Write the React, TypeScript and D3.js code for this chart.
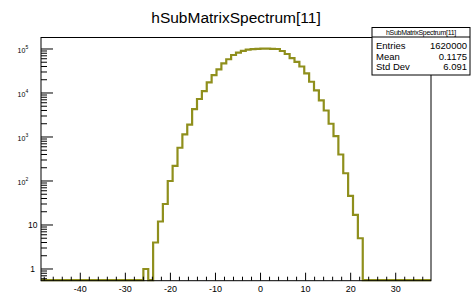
import React from "react";
import * as d3 from "d3";

const TITLE = "hSubMatrixSpectrum[11]";
const X_MIN = -48.72;
const X_MAX = 37.83;
const Y_MIN_LOG = -0.266;
const Y_MAX_LOG = 5.261;

// 80 bins, counts
const BIN_COUNTS = [
  0, 0, 0, 0, 0, 0, 0, 0, 0, 0,
  0, 0, 0, 0, 0, 0, 0, 0, 0, 0,
  0, 1, 0, 4, 12, 30, 100, 220, 570, 1150,
  1900, 4300, 7300, 11000, 17500, 25500, 34500, 47000, 58500, 73000,
  83000, 91000, 97000, 99500, 101000, 101500, 101500, 101000, 100000, 90000,
  77000, 62000, 51000, 40000, 28000, 18000, 11500, 6800, 4000, 2000,
  1050, 400, 150, 46, 17, 5, 0, 0, 0, 0,
  0, 0, 0, 0, 0, 0, 0, 0, 0, 0,
];

const X_TICKS = [-40, -30, -20, -10, 0, 10, 20, 30];
const Y_DECADES = [0, 1, 2, 3, 4, 5];
const STATS_LABELS = ["Entries", "Mean", "Std Dev"];
const STATS_VALUES = ["1620000", "0.1175", "6.091"];

const FONT = "'Liberation Sans', Arial, Helvetica, sans-serif";
const LINE_COLOR = "#8f8f1c";

export default function App() {
  const W = 474, H = 295;
  const L = 41, R = 431, T = 37.5, B = 280.7;
  const x = d3.scaleLinear().domain([X_MIN, X_MAX]).range([L, R]);
  const y = d3.scaleLog().domain([Math.pow(10, Y_MIN_LOG), Math.pow(10, Y_MAX_LOG)]).range([B, T]);
  const bw = (X_MAX - X_MIN) / BIN_COUNTS.length;

  const pts: [number, number][] = [];
  BIN_COUNTS.forEach((c, i) => {
    const yy = c > 0 ? y(c) : B - 0.5;
    pts.push([x(X_MIN + i * bw), yy]);
    pts.push([x(X_MIN + (i + 1) * bw), yy]);
  });
  const path = d3.line()(pts) || "";

  const xMinor = d3.range(-48, 37, 2).filter((v) => v % 10 !== 0);
  const yMinor: number[] = [];
  for (let d = -1; d <= 5; d++) {
    for (let k = 2; k <= 9; k++) {
      const v = k * Math.pow(10, d);
      const lv = Math.log10(v);
      if (lv > Y_MIN_LOG && lv < Y_MAX_LOG) yMinor.push(v);
    }
  }

  const boxL = 372, boxR = 470, boxT = 27.5, boxB = 75, boxH = 37;
  const rowY = [49, 59.5, 70];

  return (
    <svg width={W} height={H} style={{ position: "absolute", left: 0, top: 0, background: "#fff" }} fontFamily={FONT}>
      <rect x={0} y={0} width={W} height={H} fill="#fff" />
      <text x={236} y={23} fontSize={15.5} textAnchor="middle" fill="#000">{TITLE}</text>

      {/* histogram */}
      <path d={path} fill="none" stroke={LINE_COLOR} strokeWidth={2.2} strokeLinejoin="miter" />

      {/* frame */}
      <rect x={L} y={T} width={R - L} height={B - T} fill="none" stroke="#000" strokeWidth={1} />

      {/* x ticks */}
      {X_TICKS.map((v) => (
        <g key={"xt" + v}>
          <line x1={x(v)} x2={x(v)} y1={B} y2={B - 8} stroke="#000" strokeWidth={1} />
          <text x={x(v)} y={292} fontSize={9} textAnchor="middle" fill="#000">{v < 0 ? "-" + Math.abs(v) : String(v)}</text>
        </g>
      ))}
      {xMinor.map((v) => (
        <line key={"xm" + v} x1={x(v)} x2={x(v)} y1={B} y2={B - 4} stroke="#000" strokeWidth={1} />
      ))}

      {/* y ticks */}
      {Y_DECADES.map((d) => {
        const v = Math.pow(10, d);
        const yy = y(v);
        return (
          <g key={"yt" + d}>
            <line x1={L} x2={L + 12} y1={yy} y2={yy} stroke="#000" strokeWidth={1} />
            {d === 0 ? (
              <text x={35} y={yy + 2.8} fontSize={8.5} textAnchor="end" fill="#000">1</text>
            ) : d === 1 ? (
              <text x={37.5} y={yy + 2.8} fontSize={8.5} textAnchor="end" fill="#000">10</text>
            ) : (
              <g>
                <text x={25.3} y={yy + 4.3} fontSize={7} textAnchor="end" fill="#000">10</text>
                <text x={25.5} y={yy + 0.3} fontSize={5} textAnchor="start" fill="#000">{d}</text>
              </g>
            )}
          </g>
        );
      })}
      {yMinor.map((v, i) => (
        <line key={"ym" + i} x1={L} x2={L + 6} y1={y(v)} y2={y(v)} stroke="#000" strokeWidth={1} />
      ))}

      {/* stats box */}
      <rect x={boxL} y={boxT} width={boxR - boxL} height={boxB - boxT} fill="#fff" stroke="#000" strokeWidth={1} />
      <line x1={boxL} x2={boxR} y1={boxH} y2={boxH} stroke="#000" strokeWidth={1} />
      <text x={(boxL + boxR) / 2} y={34.5} fontSize={7} textAnchor="middle" fill="#000" letterSpacing={-0.3}>{TITLE}</text>
      {STATS_LABELS.map((s, i) => (
        <g key={"st" + i}>
          <text x={376} y={rowY[i]} fontSize={9.5} fill="#000">{s}</text>
          <text x={467} y={rowY[i]} fontSize={9.5} textAnchor="end" fill="#000">{STATS_VALUES[i]}</text>
        </g>
      ))}
    </svg>
  );
}
